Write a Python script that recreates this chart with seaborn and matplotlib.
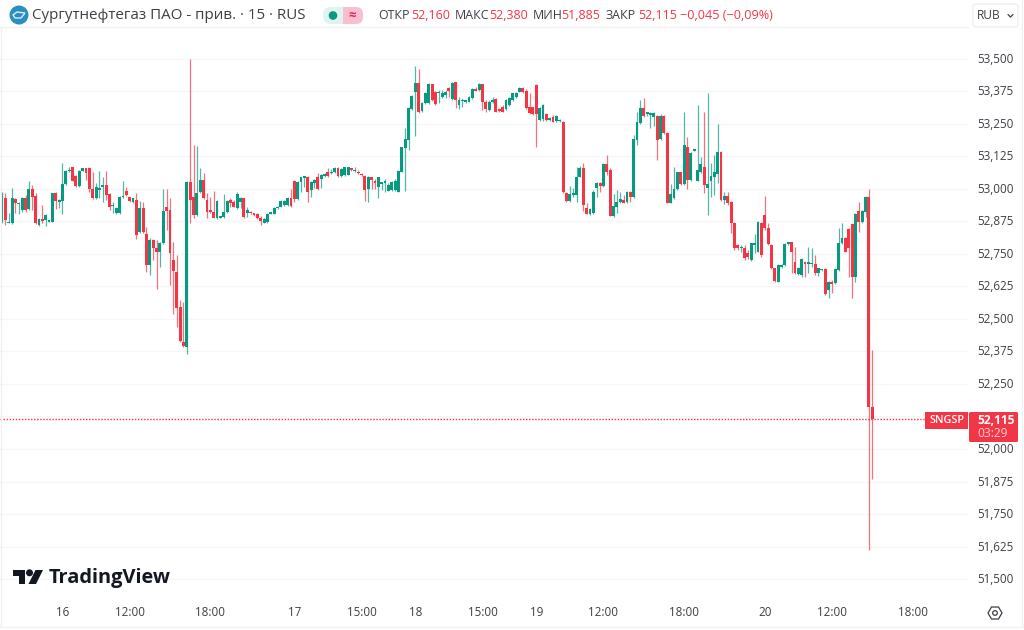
import matplotlib
matplotlib.use("Agg")
import matplotlib.pyplot as plt
import pandas as pd
import seaborn as sns
from matplotlib.patches import Circle, FancyBboxPatch, Polygon, Rectangle
from matplotlib.ticker import FuncFormatter
from matplotlib.transforms import ScaledTranslation

# 15 minute candles, prices as shown on the axis
opens = [
    52874, 52964, 52868, 52868, 52962, 52941, 52919, 52967, 52922, 52999,
    52973, 52862, 52885, 52881, 52873, 52874, 52986, 52951, 52955, 53018,
    53068, 53083, 53050, 53012, 53070, 53079, 53082, 53000, 52964, 52996,
    53009, 53015, 52981, 52933, 52906, 52906, 52968, 52991, 52968, 52949,
    52958, 52833, 52926, 52827, 52708, 52804, 52772, 52756, 52791, 52932,
    52919, 52727, 52682, 52547, 52413, 52394, 53028, 52970, 52900, 52990,
    53035, 52958, 52915, 52913, 52887, 52890, 52891, 52913, 52958, 52951,
    52926, 52951, 52964, 52906, 52913, 52906, 52903, 52890, 52871, 52872,
    52904, 52904, 52926, 52932, 52938, 52938, 52964, 53031, 52960, 53028,
    53042, 53047, 52996, 53022, 53045, 53037, 53050, 53067, 53060, 53065,
    53079, 53050, 53053, 53055, 53079, 53068, 53067, 53058, 53050, 52999,
    53045, 53032, 53009, 53019, 53022, 52994, 52996, 52996, 52990, 53067,
    53156, 53188, 53306, 53374, 53406, 53301, 53329, 53329, 53403, 53374,
    53368, 53355, 53361, 53387, 53345, 53410, 53323, 53337, 53335, 53336,
    53349, 53385, 53381, 53403, 53336, 53304, 53336, 53345, 53306, 53314,
    53306, 53323, 53342, 53355, 53374, 53387, 53378, 53314, 53314, 53400,
    53265, 53268, 53288, 53265, 53278, 53263, 53260, 53259, 52986, 52955,
    52977, 52977, 53047, 53082, 52926, 52904, 52906, 53003, 53024, 53011,
    53096, 53073, 52896, 52932, 52950, 52958, 52950, 52988, 52968, 53188,
    53253, 53310, 53287, 53285, 53278, 53282, 53191, 53281, 53217, 52947,
    52964, 52999, 53064, 53019, 53163, 53035, 53147, 53032, 53067, 53083,
    53003, 53032, 53045, 53058, 53144, 52958, 52973, 52951, 52871, 52785,
    52772, 52774, 52755, 52727, 52785, 52759, 52868, 52900, 52851, 52785,
    52695, 52643, 52699, 52708, 52788, 52795, 52720, 52673, 52669, 52720,
    52712, 52710, 52712, 52678, 52688, 52692, 52612, 52644, 52637, 52688,
    52791, 52810, 52845, 52865, 52660, 52917, 52874, 52913, 52970, 52160,
]
highs = [
    52987, 52983, 52906, 53003, 52964, 52951, 52970, 52977, 53031, 53015,
    52983, 52887, 52938, 52903, 52878, 52986, 52988, 52960, 53099, 53073,
    53086, 53086, 53053, 53073, 53082, 53082, 53083, 53067, 53022, 53069,
    53047, 53069, 52983, 52951, 52932, 52973, 53031, 53006, 52970, 52967,
    52986, 52955, 52951, 52855, 52810, 52806, 52804, 52797, 52999, 52999,
    52967, 52797, 52746, 52573, 52567, 53032, 53500, 53169, 53165, 53079,
    53060, 52983, 52970, 52992, 52958, 52895, 52979, 52958, 52964, 52958,
    52990, 52968, 52967, 52932, 52915, 52909, 52906, 52896, 52887, 52906,
    52909, 52930, 52935, 52958, 52958, 52970, 52999, 53035, 53032, 53047,
    53047, 53050, 53032, 53037, 53060, 53058, 53060, 53079, 53076, 53083,
    53083, 53081, 53086, 53086, 53082, 53083, 53073, 53063, 53053, 53050,
    53047, 53037, 53047, 53024, 53037, 53024, 53032, 53037, 53073, 53163,
    53233, 53314, 53362, 53473, 53460, 53336, 53374, 53406, 53405, 53378,
    53381, 53381, 53381, 53391, 53413, 53413, 53355, 53351, 53342, 53359,
    53390, 53391, 53409, 53405, 53342, 53342, 53355, 53349, 53310, 53323,
    53345, 53353, 53370, 53374, 53391, 53391, 53383, 53368, 53317, 53403,
    53317, 53327, 53291, 53278, 53285, 53285, 53268, 53261, 52990, 53011,
    53003, 53083, 53088, 53101, 52947, 52927, 52996, 53028, 53028, 53099,
    53131, 53080, 52981, 52996, 52990, 52977, 52992, 52994, 53208, 53297,
    53342, 53349, 53297, 53297, 53295, 53285, 53287, 53285, 53220, 53019,
    53086, 53067, 53067, 53295, 53201, 53144, 53152, 53323, 53124, 53297,
    53370, 53101, 53131, 53249, 53147, 52990, 52990, 52954, 52874, 52787,
    52785, 52785, 52765, 52794, 52827, 52877, 52874, 52973, 52871, 52787,
    52697, 52710, 52710, 52791, 52797, 52797, 52778, 52699, 52733, 52723,
    52778, 52774, 52746, 52697, 52694, 52695, 52647, 52650, 52695, 52849,
    52871, 52817, 52849, 52868, 52909, 52951, 52919, 52973, 52999, 52380,
]
lows = [
    52871, 52862, 52868, 52865, 52906, 52904, 52913, 52913, 52919, 52919,
    52865, 52859, 52868, 52859, 52872, 52872, 52922, 52926, 52903, 53015,
    53067, 53031, 53009, 53009, 53068, 53035, 52990, 52962, 52962, 52964,
    52951, 52958, 52919, 52906, 52904, 52904, 52964, 52973, 52951, 52947,
    52806, 52829, 52832, 52682, 52669, 52727, 52615, 52699, 52788, 52842,
    52631, 52519, 52468, 52413, 52394, 52365, 52871, 52890, 52897, 52986,
    52962, 52890, 52906, 52887, 52885, 52887, 52890, 52906, 52930, 52930,
    52923, 52926, 52890, 52894, 52904, 52896, 52886, 52860, 52869, 52869,
    52903, 52903, 52923, 52930, 52934, 52934, 52932, 52951, 52958, 52990,
    53009, 52951, 52970, 53003, 52996, 53003, 53047, 53047, 53058, 53063,
    53047, 53047, 53050, 53053, 53070, 53065, 53058, 53050, 52955, 52951,
    52999, 52999, 52964, 52996, 52990, 52991, 52994, 52994, 52988, 53064,
    52992, 53150, 53304, 53204, 53293, 53297, 53327, 53327, 53340, 53323,
    53329, 53349, 53349, 53355, 53342, 53310, 53306, 53314, 53332, 53333,
    53346, 53376, 53378, 53304, 53297, 53301, 53332, 53295, 53297, 53295,
    53304, 53320, 53340, 53351, 53372, 53368, 53306, 53288, 53285, 53163,
    53263, 53263, 53263, 53263, 53256, 53259, 53257, 52986, 52951, 52951,
    52971, 52951, 53045, 52917, 52903, 52901, 52904, 52968, 52990, 53009,
    53054, 52896, 52894, 52909, 52947, 52945, 52947, 52951, 52965, 53169,
    53250, 53278, 53281, 53236, 53242, 53112, 53188, 53211, 52945, 52945,
    52960, 52996, 53015, 53017, 53000, 53032, 53145, 53030, 53063, 52986,
    52900, 52971, 52977, 53022, 52955, 52942, 52938, 52830, 52765, 52765,
    52759, 52727, 52730, 52723, 52753, 52756, 52740, 52842, 52785, 52692,
    52643, 52641, 52695, 52705, 52786, 52676, 52673, 52669, 52663, 52663,
    52678, 52701, 52669, 52667, 52686, 52592, 52579, 52599, 52635, 52686,
    52789, 52756, 52663, 52579, 52644, 52836, 52870, 52893, 51612, 51885,
]
closes = [
    52983, 52881, 52874, 52964, 52945, 52947, 52967, 52919, 52999, 52970,
    52868, 52883, 52877, 52900, 52876, 52983, 52955, 52958, 53018, 53070,
    53070, 53032, 53012, 53070, 53079, 53063, 52999, 52964, 53006, 53003,
    53015, 52977, 52930, 52936, 52926, 52970, 52974, 52977, 52955, 52964,
    52823, 52926, 52836, 52708, 52804, 52772, 52759, 52791, 52917, 52917,
    52753, 52686, 52541, 52417, 52396, 53028, 52958, 52900, 52983, 53035,
    52964, 52913, 52913, 52890, 52954, 52893, 52913, 52955, 52945, 52932,
    52981, 52965, 52891, 52919, 52906, 52900, 52890, 52878, 52883, 52904,
    52906, 52926, 52932, 52955, 52955, 52967, 52935, 52960, 53028, 53045,
    53045, 52990, 53028, 53035, 52999, 53054, 53056, 53050, 53067, 53079,
    53050, 53076, 53083, 53083, 53073, 53073, 53060, 53053, 52996, 53047,
    53035, 53024, 53045, 53021, 53032, 53015, 53028, 53032, 53069, 53160,
    53191, 53310, 53358, 53406, 53295, 53329, 53368, 53403, 53342, 53327,
    53374, 53370, 53372, 53378, 53409, 53342, 53342, 53340, 53340, 53355,
    53385, 53378, 53403, 53336, 53306, 53336, 53342, 53297, 53300, 53297,
    53342, 53349, 53368, 53370, 53387, 53374, 53310, 53291, 53288, 53288,
    53310, 53323, 53265, 53272, 53259, 53281, 53265, 52990, 52954, 52981,
    52983, 53047, 53082, 52938, 52904, 52922, 52990, 53022, 53011, 53096,
    53067, 52897, 52935, 52951, 52960, 52947, 52988, 52968, 53191, 53259,
    53310, 53281, 53295, 53291, 53291, 53188, 53282, 53214, 52947, 52981,
    52999, 53064, 53019, 53169, 53035, 53140, 53150, 53073, 53096, 53015,
    53019, 53050, 53067, 53144, 52958, 52973, 52947, 52868, 52772, 52772,
    52778, 52733, 52737, 52791, 52791, 52874, 52746, 52849, 52787, 52695,
    52646, 52708, 52708, 52787, 52795, 52759, 52676, 52695, 52729, 52712,
    52714, 52714, 52678, 52695, 52691, 52596, 52644, 52635, 52692, 52791,
    52810, 52759, 52772, 52660, 52904, 52874, 52917, 52971, 52160, 52115,
]

price_ticks = [51500 + 125 * k for k in range(17)]
hidden_tick = 52125  # sits behind the last price tag
time_bars = [18, 38, 62, 87, 107, 123, 143, 159, 179, 203, 227, 247, 271]
time_labels = ["16", "12:00", "18:00", "17", "15:00", "18", "15:00", "19",
               "12:00", "18:00", "20", "12:00", "18:00"]

title_text = "Сургутнефтегаз ПАО - прив. · 15 · RUS"
ohlc_names = ["ОТКР", "МАКС", "МИН", "ЗАКР"]
ohlc_values = ["52,160", "52,380", "51,885", "52,115"]
change_text = "−0,045 (−0,09%)"

GREEN = "#089981"
RED = "#F23645"
GRID = "#f6f6f6"
TEXT = "#3d3f46"

sns.set_theme(style="white")
plt.rcParams["font.family"] = ["Open Sans", "DejaVu Sans"]

df = pd.DataFrame({"open": opens, "high": highs, "low": lows, "close": closes})
df["bar"] = df.index
df["lower"] = df[["open", "close"]].min(axis=1)
df["body"] = (df["open"] - df["close"]).abs().clip(lower=6)
up = df[df["close"] >= df["open"]]
down = df[df["close"] < df["open"]]

fig = plt.figure(figsize=(10.24, 6.30), dpi=100)
ax = fig.add_axes([0, 32 / 630, 968 / 1024, 570 / 630])

for part, colour in [(up, GREEN), (down, RED)]:
    ax.vlines(part["bar"], part["low"], part["high"], color=colour, lw=0.9, alpha=0.7, zorder=3)
    sns.barplot(
        data=part, x="bar", y="body", bottom=part["lower"], native_scale=True,
        color=colour, saturation=1, width=0.85, errorbar=None, linewidth=0, zorder=4, ax=ax,
    )

ax.axhline(closes[-1], color=RED, lw=1, ls=(0, (1, 1.2)), zorder=2)

ax.set_xlim(-2 / 3.36, 966 / 3.36)
ax.set_ylim(51427, 53619)
ax.set_xticks(time_bars, time_labels)
ax.set_yticks(price_ticks)
ax.yaxis.set_major_formatter(FuncFormatter(lambda v, _: "" if round(v) == hidden_tick else f"{v:,.0f}"))
ax.yaxis.tick_right()
ax.tick_params(axis="y", length=0, pad=6.5, labelsize=8.4, labelcolor=TEXT)
ax.tick_params(axis="x", length=0, pad=5.5, labelsize=8.4, labelcolor=TEXT)
lift = ScaledTranslation(0, 1 / 100, fig.dpi_scale_trans)
for label in ax.get_yticklabels():
    label.set_transform(label.get_transform() + lift)
ax.set_xlabel("")
ax.set_ylabel("")
ax.grid(axis="y", color=GRID, lw=1)
ax.set_axisbelow(True)
sns.despine(ax=ax, left=True, bottom=True, right=True, top=True)

# everything around the plot, in screen pixels
ui = fig.add_axes([0, 0, 1, 1], zorder=5)
ui.set_xlim(0, 1024)
ui.set_ylim(630, 0)
ui.axis("off")

for x0, y0, x1, y1 in [(0, 627, 1024, 627), (0, 27, 968, 27), (0.5, 27, 0.5, 627), (1022, 0, 1022, 627)]:
    ui.plot([x0, x1], [y0, y1], color="#f0f0f0", lw=0.9)

ui.add_patch(Circle((19, 15), 8.8, color="#2a8fbd"))
ui.add_patch(Polygon([(13, 15), (17, 12), (25, 13), (21, 18), (15, 18)], fill=False, ec="#d8edf5", lw=1))
ui.text(32, 15.5, title_text, fontsize=10.9, color=TEXT, va="center")

ui.add_patch(FancyBboxPatch((323, 7), 30, 17, boxstyle="round,pad=0,rounding_size=8", fc="#e1f3f0", ec="none"))
ui.add_patch(FancyBboxPatch((343, 7), 20, 17, boxstyle="round,pad=0,rounding_size=7", fc="#f9bfd0", ec="none"))
ui.add_patch(Rectangle((343, 7), 8, 17, fc="#f9bfd0", ec="none"))
ui.add_patch(Circle((333, 15.5), 3.6, color=GREEN))
ui.text(352, 15.5, "≈", fontsize=9.5, color="#e0245e", ha="center", va="center", fontweight="bold")

for name, value, nx, vx in zip(ohlc_names, ohlc_values, [378, 455, 533, 606], [411, 489, 561, 638]):
    ui.text(nx, 15.5, name, fontsize=8.9, color=TEXT, va="center")
    ui.text(vx, 15.5, value, fontsize=8.9, color=RED, va="center")
ui.text(680, 15.5, change_text, fontsize=9.1, color=RED, va="center")

ui.add_patch(FancyBboxPatch((973, 4), 45, 23, boxstyle="round,pad=0,rounding_size=3", fc="white", ec="#ececec", lw=0.9))
ui.text(977, 15.5, "RUB", fontsize=8.6, color=TEXT, va="center")
ui.plot([1008, 1010.5, 1013], [14.5, 17, 14.5], color=TEXT, lw=0.9)

ui.add_patch(Rectangle((925, 412), 43, 17, fc=RED, ec="none"))
ui.text(946.5, 420.5, "SNGSP", fontsize=7.8, color="white", ha="center", va="center", fontweight="semibold")
ui.add_patch(FancyBboxPatch((969, 412), 49, 30, boxstyle="round,pad=0,rounding_size=1.5", fc=RED, ec="none"))
ui.text(977, 420, ohlc_values[3], fontsize=8.6, color="white", va="center", fontweight="bold")
ui.text(977, 433.5, "03:29", fontsize=8.6, color="#ffd3d8", va="center")

# TradingView mark and word
ui.add_patch(Polygon([(13, 570), (25, 570), (25, 584), (19, 584), (19, 575.5), (13, 575.5)], fc="#131722", ec="none"))
ui.add_patch(Circle((29.5, 572.8), 2.8, color="#131722"))
ui.add_patch(Polygon([(35.5, 570), (43, 570), (36, 584), (28.5, 584)], fc="#131722", ec="none"))
ui.text(49, 578.5, "TradingView", fontsize=14.4, color="#131722", va="center", fontweight="bold")

ui.add_patch(Polygon([(988, 613), (991.5, 607), (998.5, 607), (1002, 613), (998.5, 619), (991.5, 619)], fill=False, ec="#3d3f46", lw=0.9))
ui.add_patch(Circle((995, 613), 2.3, fill=False, ec="#3d3f46", lw=0.9))

fig.savefig("out.png", dpi=100, facecolor="white")
